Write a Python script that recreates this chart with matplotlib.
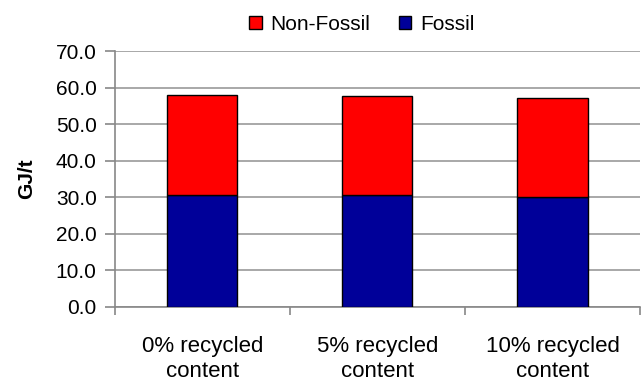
import matplotlib.pyplot as plt
import numpy as np

plt.rcParams['font.family'] = ['Liberation Sans', 'DejaVu Sans']

categorias = ['0% recycled\ncontent', '5% recycled\ncontent', '10% recycled\ncontent']
fossil = [30.5, 30.5, 30.1]
non_fossil_total = [58.0, 57.6, 57.0]
non_fossil = [t - f for t, f in zip(non_fossil_total, fossil)]

fig = plt.figure(figsize=(6.41, 3.81), dpi=100)
ax = fig.add_axes([0.179, 0.1955, 0.8195, 0.6706])

x = np.arange(len(categorias))
b1 = ax.bar(x, fossil, 0.4, color='#000099', edgecolor='black', linewidth=1.0, zorder=3, label='Fossil')
b2 = ax.bar(x, non_fossil, 0.4, bottom=fossil, color='#ff0000', edgecolor='black', linewidth=1.0, zorder=3, label='Non-Fossil')

ax.set_xlim(-0.5, 2.5)
ax.set_ylim(0, 70)
ax.set_yticks(np.arange(0, 71, 10))
ax.set_yticklabels(['%.1f' % v for v in np.arange(0, 71, 10)], fontsize=15)
ax.yaxis.grid(True, color='#999999', linewidth=1.2, zorder=0)

# ticks on the category boundaries, labels in the middle
ax.set_xticks(x)
ax.set_xticklabels(categorias, fontsize=16, linespacing=1.3)
ax.set_xticks(np.arange(-0.5, 2.6, 1), minor=True)
ax.tick_params(axis='x', which='major', length=0, pad=21)
ax.tick_params(axis='x', which='minor', length=6, color='#888888', width=1.2)
ax.tick_params(axis='y', length=7, color='#888888', width=1.2, pad=6)

for s in ['top', 'right']:
    ax.spines[s].set_visible(False)
ax.spines['left'].set_color('#888888')
ax.spines['bottom'].set_color('#888888')
ax.spines['left'].set_linewidth(1.2)
ax.spines['bottom'].set_linewidth(1.2)

ax.set_ylabel('GJ/t', fontsize=15, fontweight='bold', labelpad=14)

ax.legend([b2, b1], ['Non-Fossil', 'Fossil'], loc='center', bbox_to_anchor=(0.47, 1.105),
          ncol=2, frameon=False, fontsize=15, handlelength=0.6, handleheight=0.6,
          handletextpad=0.4, columnspacing=1.4)

fig.savefig('out.png', dpi=100)
